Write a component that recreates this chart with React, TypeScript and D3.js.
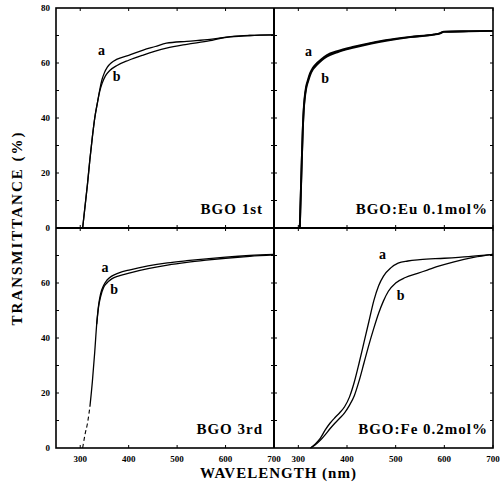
import React from 'react';
import * as d3 from 'd3';

type Pt = [number, number];

const xTicks = [300, 400, 500, 600, 700];
const yTicksMajor = [0, 20, 40, 60, 80];
const yTicksMinor = [10, 20, 30, 40, 50, 60, 70];
const panelTitles = ['BGO 1st', 'BGO:Eu 0.1mol%', 'BGO 3rd', 'BGO:Fe 0.2mol%'];

const bgo1stA: Pt[] = [[305,0],[310,8],[315,16],[320,25],[325,33],[330,40],[336,46],[340,50],[345,54],[350,56.5],[356,58.5],[365,60.2],[375,61.3],[400,62.8],[430,64.7],[455,66],[478,67.2],[520,67.9],[568,68.6],[610,69.6],[650,70],[700,70.2]];
const bgo1stB: Pt[] = [[305,0],[310,8],[315,16],[320,25],[325,33],[330,40],[336,46],[340,49.5],[345,52.5],[352,55.3],[361,57.3],[375,59],[400,61],[430,62.9],[455,64.3],[478,65.4],[520,66.8],[568,68.1],[590,69],[610,69.5],[650,70],[700,70.2]];

const euA: Pt[] = [[303,0],[305,12],[307,24],[309,35],[311,43],[313,47.5],[316,51.4],[320,54],[324,56.2],[330,58.3],[338,59.9],[348,61.5],[359,62.9],[380,64.3],[414,65.9],[450,67.3],[483,68.4],[530,69.5],[579,70.4],[590,70.8],[599,71.4],[650,71.6],[700,71.7]];
const euB: Pt[] = [[303,0],[305,12],[307,24],[309,35],[311,42.5],[313,46.8],[316,50.6],[320,53.3],[324,55.5],[330,57.7],[338,59.3],[348,61],[359,62.4],[380,63.9],[414,65.6],[450,67.1],[483,68.2],[530,69.4],[579,70.3],[590,70.7],[599,71.3],[650,71.5],[700,71.7]];

const bgo3rdA: Pt[] = [[305,0],[310,5],[315,9],[320,15],[325,24],[330,35],[334,45],[338,52],[342,56],[348,59],[355,61],[365,62.5],[380,63.7],[403,64.8],[440,66.2],[480,67.3],[520,68.1],[560,68.8],[600,69.4],[650,70],[700,70.4]];
const bgo3rdB: Pt[] = [[305,0],[310,5],[315,9],[320,15],[325,24],[330,35],[334,45],[338,51.5],[342,55],[348,58.3],[355,60],[365,61.5],[380,62.6],[403,63.7],[440,65.2],[480,66.5],[520,67.5],[560,68.3],[600,69],[650,69.7],[700,70.2]];

const feA: Pt[] = [[325,0],[335,1.5],[345,3.5],[355,6.5],[365,9],[375,11],[385,12.8],[395,15],[405,18.5],[415,24],[425,31],[435,38.5],[445,46],[455,53.5],[465,59],[475,62.5],[490,65.5],[505,67.2],[525,68],[550,68.5],[600,69],[650,69.6],[700,70.4]];
const feB: Pt[] = [[325,0],[335,1.2],[345,2.8],[355,4.8],[365,7],[375,9],[385,10.8],[395,12.8],[405,15.5],[415,19],[425,24.5],[435,31],[445,37.5],[455,43.5],[465,49],[475,53.5],[485,57],[500,60],[520,62],[545,63.5],[565,64.7],[590,66.2],[620,67.7],[660,69.3],[700,70.4]];

// label anchors in data units (wavelength, transmittance)
const labelA: Pt[] = [[344, 64.7], [321, 64.1], [351, 65.5], [473, 70.2]];
const labelB: Pt[] = [[375, 55], [355, 54.4], [370, 57.5], [510, 55.6]];

const curves: [Pt[], Pt[]][] = [
  [bgo1stA, bgo1stB],
  [euA, euB],
  [bgo3rdA, bgo3rdB],
  [feA, feB],
];

const X0 = 56, XM = 274, X1 = 493;
const Y0 = 8, YM = 228, Y1 = 448;

const FONT = '"Liberation Serif", "DejaVu Serif", serif';

export default function App() {
  const panels = [
    { x: [X0, XM], y: [Y0, YM] },
    { x: [XM, X1], y: [Y0, YM] },
    { x: [X0, XM], y: [YM, Y1] },
    { x: [XM, X1], y: [YM, Y1] },
  ];

  return (
    <div style={{ position: 'absolute', left: 0, top: 0 }}>
      <svg width={501} height={494} style={{ display: 'block', background: '#fff' }}>
        {panels.map((p, i) => {
          const xs = d3.scaleLinear().domain([250, 700]).range(p.x);
          const ys = d3.scaleLinear().domain([0, 80]).range([p.y[1], p.y[0]]);
          const line = d3.line<Pt>().x(d => xs(d[0])).y(d => ys(d[1])).curve(d3.curveMonotoneX);
          const [ca, cb] = curves[i];
          const sw = i === 1 ? 1.9 : 1.3;
          const isBL = i === 2;
          const lowA = ca.filter(d => d[1] <= 20);
          const highA = ca.filter(d => d[1] >= 15);
          return (
            <g key={i}>
              {/* ticks */}
              {xTicks.map(t => (
                <g key={'xt' + t}>
                  <line x1={xs(t)} x2={xs(t)} y1={p.y[1]} y2={p.y[1] - 3} stroke="#000" strokeWidth={1} />
                  <line x1={xs(t)} x2={xs(t)} y1={p.y[0]} y2={p.y[0] + 3} stroke="#000" strokeWidth={1} />
                </g>
              ))}
              {yTicksMinor.map(t => (
                <g key={'yt' + t}>
                  <line x1={p.x[0]} x2={p.x[0] + 3} y1={ys(t)} y2={ys(t)} stroke="#000" strokeWidth={1} />
                  <line x1={p.x[1]} x2={p.x[1] - 3} y1={ys(t)} y2={ys(t)} stroke="#000" strokeWidth={1} />
                </g>
              ))}
              {isBL ? (
                <>
                  <path d={line(lowA) || ''} fill="none" stroke="#000" strokeWidth={1.1} strokeDasharray="4,3" />
                  <path d={line(highA) || ''} fill="none" stroke="#000" strokeWidth={sw} />
                  <path d={line(cb.filter(d => d[1] >= 40)) || ''} fill="none" stroke="#000" strokeWidth={sw} />
                </>
              ) : (
                <>
                  <path d={line(ca) || ''} fill="none" stroke="#000" strokeWidth={sw} />
                  <path d={line(cb) || ''} fill="none" stroke="#000" strokeWidth={sw} />
                </>
              )}
              <text x={xs(labelA[i][0])} y={ys(labelA[i][1])} textAnchor="middle" dominantBaseline="central"
                fontFamily={FONT} fontWeight="bold" fontSize={14}>a</text>
              <text x={xs(labelB[i][0])} y={ys(labelB[i][1])} textAnchor="middle" dominantBaseline="central"
                fontFamily={FONT} fontWeight="bold" fontSize={14}>b</text>
              <text x={p.x[1] - (i % 2 === 0 ? 11 : 5)} y={p.y[1] - 14} textAnchor="end"
                fontFamily={FONT} fontWeight="bold" fontSize={15} letterSpacing={1}>{panelTitles[i]}</text>
              {/* x tick labels on bottom panels */}
              {i >= 2 && xTicks.map(t => (
                <text key={'xl' + t} x={xs(t)} y={p.y[1] + 14} textAnchor="middle"
                  fontFamily={FONT} fontWeight="bold" fontSize={9}>{t}</text>
              ))}
              {/* y tick labels on left panels */}
              {i % 2 === 0 && yTicksMajor.filter(t => i === 0 || t < 80).map(t => (
                <text key={'yl' + t} x={50} y={ys(t)} textAnchor="end" dominantBaseline="central"
                  fontFamily={FONT} fontWeight="bold" fontSize={9}>{t}</text>
              ))}
            </g>
          );
        })}
        {/* frame */}
        <rect x={X0} y={Y0} width={X1 - X0} height={Y1 - Y0} fill="none" stroke="#000" strokeWidth={1.6} />
        <line x1={XM} x2={XM} y1={Y0} y2={Y1} stroke="#000" strokeWidth={2} />
        <line x1={X0} x2={X1} y1={YM} y2={YM} stroke="#000" strokeWidth={2} />
        <text transform={`translate(17,${(Y0 + Y1) / 2}) rotate(-90)`} textAnchor="middle" dominantBaseline="central"
          fontFamily={FONT} fontWeight="bold" fontSize={15} letterSpacing={2}>TRANSMITTANCE (%)</text>
        <text x={(X0 + X1) / 2 + 4} y={478} textAnchor="middle"
          fontFamily={FONT} fontWeight="bold" fontSize={15} letterSpacing={1}>WAVELENGTH (nm)</text>
      </svg>
    </div>
  );
}
